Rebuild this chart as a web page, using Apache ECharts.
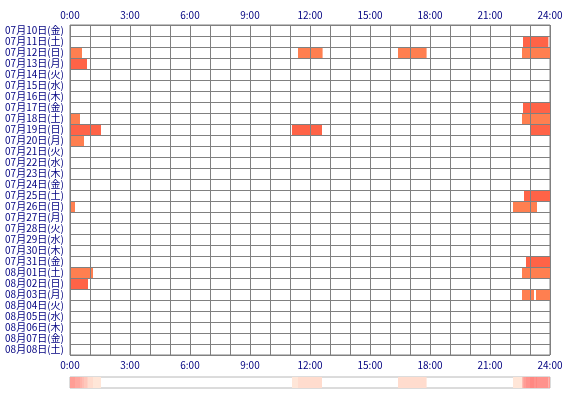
<!DOCTYPE html>
<html>
<head>
<meta charset="utf-8">
<script src="https://cdn.jsdelivr.net/npm/echarts@6/dist/echarts.min.js"></script>
<style>
  html, body { margin: 0; background: #fff; }
</style>
</head>
<body>
<div id="chart_sleep" style="width:570px;height:400px"></div>
<script>
var days = [
  '07月10日(金)', '07月11日(土)', '07月12日(日)', '07月13日(月)', '07月14日(火)',
  '07月15日(水)', '07月16日(木)', '07月17日(金)', '07月18日(土)', '07月19日(日)',
  '07月20日(月)', '07月21日(火)', '07月22日(水)', '07月23日(木)', '07月24日(金)',
  '07月25日(土)', '07月26日(日)', '07月27日(月)', '07月28日(火)', '07月29日(水)',
  '07月30日(木)', '07月31日(金)', '08月01日(土)', '08月02日(日)', '08月03日(月)',
  '08月04日(火)', '08月05日(水)', '08月06日(木)', '08月07日(金)', '08月08日(土)'
]
var hourTicks = ['0:00', '3:00', '6:00', '9:00', '12:00', '15:00', '18:00', '21:00', '24:00']

// [day, start hour, end hour]
var sessions = [
  ['07月11日(土)', 22.65, 23.92],
  ['07月12日(日)', 0, 0.6],
  ['07月12日(日)', 11.4, 12.63],
  ['07月12日(日)', 16.4, 17.83],
  ['07月12日(日)', 22.6, 24],
  ['07月13日(月)', 0, 0.85],
  ['07月17日(金)', 22.65, 24],
  ['07月18日(土)', 0, 0.5],
  ['07月18日(土)', 22.6, 24],
  ['07月19日(日)', 0, 1.55],
  ['07月19日(日)', 11.1, 12.6],
  ['07月19日(日)', 23.03, 24],
  ['07月20日(月)', 0, 0.7],
  ['07月25日(土)', 22.7, 24],
  ['07月26日(日)', 0, 0.25],
  ['07月26日(日)', 22.15, 23.35],
  ['07月31日(金)', 22.8, 24],
  ['08月01日(土)', 0, 1.15],
  ['08月01日(土)', 22.6, 24],
  ['08月02日(日)', 0, 0.9],
  ['08月03日(月)', 22.6, 23.2],
  ['08月03日(月)', 23.3, 24]
]

// summary strip: [start hour, end hour, level]
var strip = [
  [0, 0.25, 8], [0.25, 0.5, 7], [0.5, 0.6, 6], [0.6, 0.7, 5],
  [0.7, 0.85, 4], [0.85, 0.9, 3], [0.9, 1.15, 2], [1.15, 1.55, 1],
  [11.1, 11.4, 1], [11.4, 12.6, 2], [16.4, 17.83, 2],
  [22.15, 22.6, 1], [22.6, 22.65, 5], [22.65, 22.7, 7], [22.7, 22.8, 8],
  [22.8, 23.0, 9], [23.0, 23.2, 10], [23.2, 23.3, 9], [23.3, 23.35, 10],
  [23.35, 23.92, 9], [23.92, 24, 8]
]

var chartSleep = echarts.init(document.getElementById('chart_sleep'))

var barData = sessions.map(function (s) {
  return [days.indexOf(s[0]), s[1], s[2]]
})

function hourLabel (v) {
  return v % 3 === 0 ? hourTicks[v / 3] : ''
}

var font = 'Noto Sans CJK JP'
var labelColor = '#000080'

chartSleep.setOption({
  animation: false,
  textStyle: { fontFamily: font },
  grid: [
    { left: 70, top: 25, width: 480, height: 330, show: true, borderColor: '#808080', borderWidth: 1 },
    { left: 70, top: 377, width: 480, height: 11, show: true, borderColor: '#b8b8b8', borderWidth: 1 }
  ],
  visualMap: {
    show: false,
    seriesIndex: 1,
    dimension: 2,
    min: 1,
    max: 10,
    inRange: { color: ['#ffe6d8', '#ff8882'] }
  },
  xAxis: [
    {
      gridIndex: 0, type: 'value', position: 'top', min: 0, max: 24, interval: 1, z: 5,
      axisLine: { show: false }, axisTick: { show: false },
      axisLabel: { formatter: hourLabel, color: labelColor, fontSize: 10, margin: 5, fontFamily: font },
      splitLine: { show: true, lineStyle: { color: '#808080', width: 1 } }
    },
    {
      gridIndex: 0, type: 'value', position: 'bottom', min: 0, max: 24, interval: 1,
      axisLine: { show: false }, axisTick: { show: false },
      axisLabel: { formatter: hourLabel, color: labelColor, fontSize: 10, margin: 5, fontFamily: font },
      splitLine: { show: false }
    },
    { gridIndex: 1, type: 'value', min: 0, max: 24, show: false }
  ],
  yAxis: [
    {
      gridIndex: 0, type: 'category', data: days, inverse: true, z: 5,
      axisLine: { show: false }, axisTick: { show: false },
      axisLabel: { color: labelColor, fontSize: 10, margin: 6, interval: 0, fontFamily: font },
      splitLine: { show: true, interval: 0, lineStyle: { color: '#808080', width: 1 } }
    },
    { gridIndex: 1, type: 'value', min: 0, max: 1, show: false }
  ],
  series: [
    {
      type: 'custom',
      xAxisIndex: 0,
      yAxisIndex: 0,
      z: 2,
      encode: { x: [1, 2], y: 0 },
      data: barData,
      renderItem: function (params, api) {
        var row = api.value(0)
        var p0 = api.coord([api.value(1), row])
        var p1 = api.coord([api.value(2), row])
        var h = api.size([0, 1])[1]
        return {
          type: 'rect',
          shape: { x: p0[0], y: p0[1] - h / 2, width: p1[0] - p0[0], height: h },
          style: { fill: row % 2 ? '#ff6347' : '#ff7f50' }
        }
      }
    },
    {
      type: 'custom',
      xAxisIndex: 2,
      yAxisIndex: 1,
      encode: { x: [0, 1] },
      data: strip,
      renderItem: function (params, api) {
        var p0 = api.coord([api.value(0), 1])
        var p1 = api.coord([api.value(1), 0])
        return {
          type: 'rect',
          shape: { x: p0[0], y: p0[1], width: p1[0] - p0[0], height: p1[1] - p0[1] },
          style: { fill: api.visual('color') }
        }
      }
    }
  ]
})
</script>
</body>
</html>
